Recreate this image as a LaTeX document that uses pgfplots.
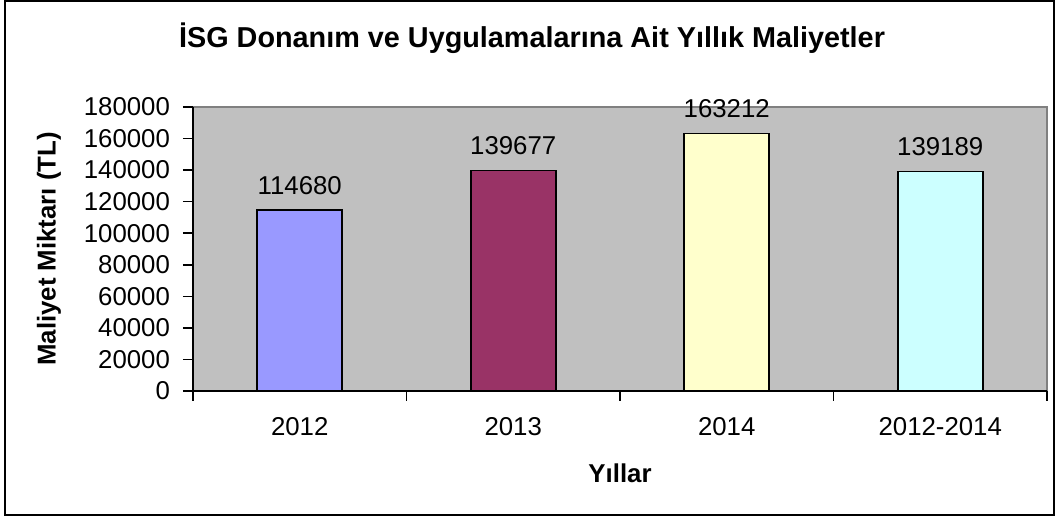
\documentclass[border=0pt]{standalone}
\usepackage{pgfplots}
\pgfplotsset{compat=1.18}
\usepackage{fontspec}
\setmainfont{Liberation Sans}
\definecolor{plotbg}{HTML}{C0C0C0}
\definecolor{plotborder}{HTML}{808080}
\definecolor{barA}{HTML}{9999FF}
\definecolor{barB}{HTML}{993366}
\definecolor{barC}{HTML}{FFFFCC}
\definecolor{barD}{HTML}{CCFFFF}
\newcommand{\tf}{\fontsize{12.9}{15}\selectfont}
\begin{document}
\begin{tikzpicture}
\useasboundingbox (0,0) rectangle (529pt,259pt);
\draw[line width=1pt] (2.5pt,1.5pt) rectangle (527pt,258.5pt);
\begin{axis}[
  at={(96.5pt,63.5pt)}, anchor=south west,
  width=427pt, height=142pt, scale only axis,
  xmin=-0.5, xmax=3.5, ymin=0, ymax=180000,
  axis lines*=left,
  axis line style={-, black, line width=0.8pt},
  axis background/.style={fill=plotbg, draw=plotborder, line width=0.8pt},
  /pgf/number format/assume math mode=true,
  /pgf/number format/fixed,
  /pgf/number format/precision=0,
  /pgf/number format/set thousands separator={},
  scaled y ticks=false,
  ytick={0,20000,40000,60000,80000,100000,120000,140000,160000,180000},
  xtick={-0.5,0.5,1.5,2.5,3.5},
  xticklabels={{},{},{},{},{}},
  extra x ticks={0,1,2,3},
  extra x tick labels={2012,2013,2014,2012-2014},
  extra x tick style={major tick length=0pt},
  tick align=outside,
  major tick length=5pt,
  tick style={black, line width=0.8pt},
  tick label style={font=\tf},
  yticklabel style={xshift=-3pt},
  xticklabel style={yshift=-9.5pt},
  xlabel={Yıllar},
  ylabel={Maliyet Miktarı (TL)},
  xlabel style={at={(axis description cs:0.5,-0.2887)}, anchor=center, font=\bfseries\tf},
  ylabel style={at={(axis description cs:-0.1686,0.5)}, anchor=center, font=\bfseries\tf},
  title={İSG Donanım ve Uygulamalarına Ait Yıllık Maliyetler},
  title style={at={(axis description cs:0.397,1.248)}, anchor=center, yshift=-7pt, font=\bfseries\fontsize{14.4}{17}\selectfont},
  point meta=explicit symbolic,
  nodes near coords,
  every node near coord/.append style={anchor=base, inner sep=0pt, yshift=8pt, font=\tf, text=black},
  clip=false,
]
\addplot[ybar, bar width=42.5pt, bar shift=0pt, fill=barA, draw=black, line width=0.8pt] coordinates {(0,114680) [114680]};
\addplot[ybar, bar width=42.5pt, bar shift=0pt, fill=barB, draw=black, line width=0.8pt] coordinates {(1,139677) [139677]};
\addplot[ybar, bar width=42.5pt, bar shift=0pt, fill=barC, draw=black, line width=0.8pt] coordinates {(2,163212) [163212]};
\addplot[ybar, bar width=42.5pt, bar shift=0pt, fill=barD, draw=black, line width=0.8pt] coordinates {(3,139189) [139189]};
\end{axis}
\end{tikzpicture}
\end{document}
